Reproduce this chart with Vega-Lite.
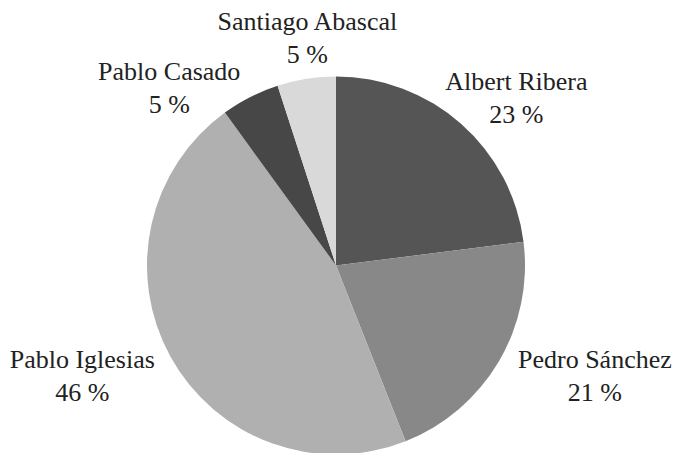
{
  "$schema": "https://vega.github.io/schema/vega-lite/v6.json",
  "width": 672,
  "height": 375,
  "autosize": "none",
  "padding": {"left": 0, "top": 78, "right": 4, "bottom": 0},
  "background": "white",
  "view": {"stroke": null},
  "config": {"text": {"font": "Liberation Serif, DejaVu Serif, serif"}},
  "data": {
    "values": [
      {"i": 1, "name": "Albert Ribera", "pct": 23},
      {"i": 2, "name": "Pedro Sánchez", "pct": 21},
      {"i": 3, "name": "Pablo Iglesias", "pct": 46},
      {"i": 4, "name": "Pablo Casado", "pct": 5},
      {"i": 5, "name": "Santiago Abascal", "pct": 5}
    ]
  },
  "transform": [
    {"calculate": "datum.name + '\\n' + datum.pct + ' %'", "as": "label"}
  ],
  "encoding": {
    "theta": {"field": "pct", "type": "quantitative", "stack": true},
    "order": {"field": "i", "type": "quantitative"}
  },
  "layer": [
    {
      "mark": {"type": "arc", "outerRadius": 189, "stroke": null},
      "encoding": {
        "color": {
          "field": "name",
          "type": "nominal",
          "legend": null,
          "scale": {
            "domain": ["Albert Ribera", "Pedro Sánchez", "Pablo Iglesias", "Pablo Casado", "Santiago Abascal"],
            "range": ["#555555", "#888888", "#b0b0b0", "#474747", "#d9d9d9"]
          }
        }
      }
    },
    {
      "mark": {"type": "text", "radius": 244, "dx": 19, "dy": 0, "font": "Liberation Serif, DejaVu Serif, Noto Serif, serif", "fontSize": 26, "lineHeight": 33, "lineBreak": "\n", "align": "center", "baseline": "middle", "color": "#222222"},
      "encoding": {
        "detail": {"field": "name"},
        "text": {"condition": {"test": "datum.name === 'Albert Ribera'", "field": "label"}, "value": ""}
      }
    },
    {
      "mark": {"type": "text", "radius": 281, "dx": 17, "dy": -49, "font": "Liberation Serif, DejaVu Serif, Noto Serif, serif", "fontSize": 26, "lineHeight": 33, "lineBreak": "\n", "align": "center", "baseline": "middle", "color": "#222222"},
      "encoding": {
        "detail": {"field": "name"},
        "text": {"condition": {"test": "datum.name === 'Pedro Sánchez'", "field": "label"}, "value": ""}
      }
    },
    {
      "mark": {"type": "text", "radius": 277, "dx": -11, "dy": -39, "font": "Liberation Serif, DejaVu Serif, Noto Serif, serif", "fontSize": 26, "lineHeight": 33, "lineBreak": "\n", "align": "center", "baseline": "middle", "color": "#222222"},
      "encoding": {
        "detail": {"field": "name"},
        "text": {"condition": {"test": "datum.name === 'Pablo Iglesias'", "field": "label"}, "value": ""}
      }
    },
    {
      "mark": {"type": "text", "radius": 233, "dx": -61, "dy": 14, "font": "Liberation Serif, DejaVu Serif, Noto Serif, serif", "fontSize": 26, "lineHeight": 33, "lineBreak": "\n", "align": "center", "baseline": "middle", "color": "#222222"},
      "encoding": {
        "detail": {"field": "name"},
        "text": {"condition": {"test": "datum.name === 'Pablo Casado'", "field": "label"}, "value": ""}
      }
    },
    {
      "mark": {"type": "text", "radius": 228, "dx": 7, "dy": -18, "font": "Liberation Serif, DejaVu Serif, Noto Serif, serif", "fontSize": 26, "lineHeight": 33, "lineBreak": "\n", "align": "center", "baseline": "middle", "color": "#222222"},
      "encoding": {
        "detail": {"field": "name"},
        "text": {"condition": {"test": "datum.name === 'Santiago Abascal'", "field": "label"}, "value": ""}
      }
    }
  ]
}
